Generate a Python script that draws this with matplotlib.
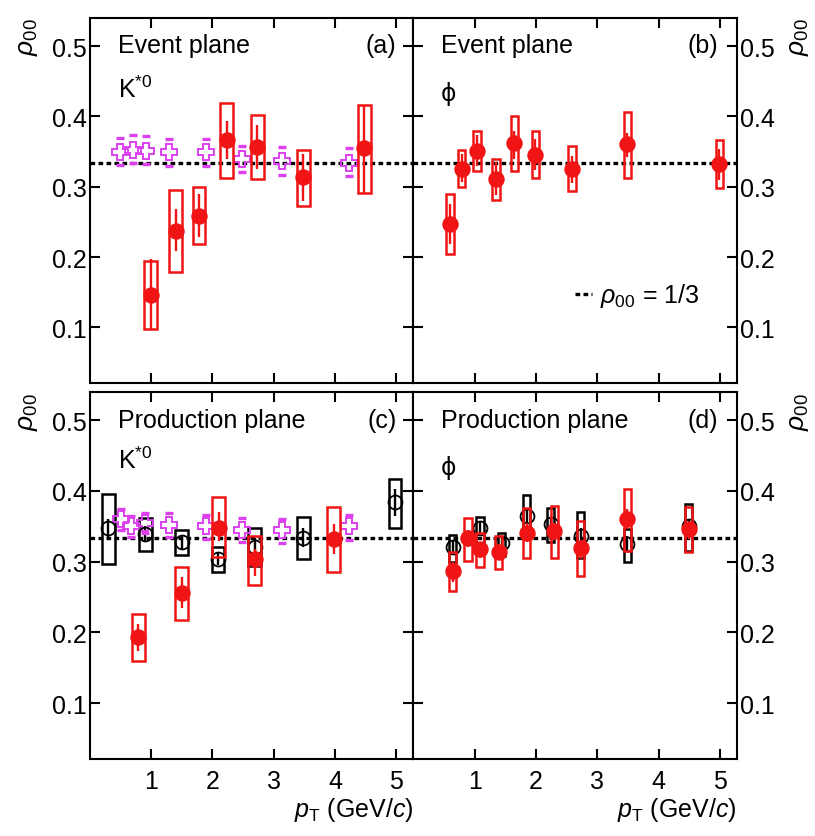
import numpy as np
import matplotlib
matplotlib.use("Agg")
import matplotlib.pyplot as plt

plt.rcParams['font.family'] = ['Liberation Sans', 'DejaVu Sans']
plt.rcParams['mathtext.fontset'] = 'custom'
plt.rcParams['mathtext.rm'] = 'Liberation Sans'
plt.rcParams['mathtext.it'] = 'Liberation Sans:italic'
plt.rcParams['mathtext.bf'] = 'Liberation Sans:bold'

RED = '#f01414'
MAG = '#dd40ee'

# (a) event plane, K*0 -- red: this analysis
a_pt = [0.99, 1.40, 1.78, 2.23, 2.73, 3.48, 4.48]
a_rho = [0.146, 0.237, 0.258, 0.366, 0.356, 0.314, 0.355]
a_stat_lo = [0.098, 0.208, 0.228, 0.340, 0.325, 0.280, 0.291]
a_stat_hi = [0.197, 0.268, 0.290, 0.394, 0.388, 0.347, 0.417]
a_sys_lo = [0.098, 0.179, 0.218, 0.313, 0.311, 0.273, 0.291]
a_sys_hi = [0.195, 0.296, 0.299, 0.419, 0.402, 0.353, 0.417]
# magenta crosses
a_m_pt = [0.49, 0.70, 0.91, 1.29, 1.89, 2.48, 3.14, 4.23]
a_m_rho = [0.350, 0.353, 0.351, 0.350, 0.350, 0.339, 0.336, 0.334]
a_m_lo = [0.331, 0.334, 0.332, 0.330, 0.330, 0.321, 0.317, 0.315]
a_m_hi = [0.369, 0.374, 0.372, 0.368, 0.368, 0.358, 0.357, 0.355]

# (b) event plane, phi
b_pt = [0.60, 0.79, 1.04, 1.35, 1.65, 1.99, 2.59, 3.49, 4.99]
b_rho = [0.247, 0.326, 0.351, 0.311, 0.362, 0.345, 0.326, 0.361, 0.332]
b_stat_lo = [0.219, 0.307, 0.329, 0.288, 0.340, 0.324, 0.306, 0.342, 0.309]
b_stat_hi = [0.276, 0.347, 0.373, 0.335, 0.380, 0.368, 0.344, 0.377, 0.354]
b_sys_lo = [0.205, 0.300, 0.322, 0.281, 0.322, 0.312, 0.294, 0.313, 0.298]
b_sys_hi = [0.290, 0.352, 0.379, 0.340, 0.401, 0.379, 0.358, 0.407, 0.366]

# (c) production plane, K*0
c_pt = [0.79, 1.50, 2.10, 2.69, 3.98]
c_rho = [0.193, 0.256, 0.348, 0.303, 0.332]
c_stat_lo = [0.174, 0.235, 0.329, 0.280, 0.311]
c_stat_hi = [0.212, 0.278, 0.370, 0.318, 0.353]
c_sys_lo = [0.160, 0.218, 0.306, 0.267, 0.285]
c_sys_hi = [0.226, 0.293, 0.391, 0.336, 0.377]
c_k_pt = [0.30, 0.90, 1.50, 2.09, 2.69, 3.48, 4.98]
c_k_rho = [0.347, 0.339, 0.328, 0.304, 0.320, 0.333, 0.384]
c_k_stat_lo = [0.335, 0.328, 0.318, 0.295, 0.308, 0.320, 0.365]
c_k_stat_hi = [0.360, 0.350, 0.338, 0.313, 0.333, 0.347, 0.402]
c_k_sys_lo = [0.297, 0.315, 0.309, 0.285, 0.294, 0.303, 0.348]
c_k_sys_hi = [0.395, 0.362, 0.344, 0.321, 0.348, 0.363, 0.417]
c_m_pt = [0.51, 0.67, 0.90, 1.29, 1.89, 2.48, 3.13, 4.23]
c_m_rho = [0.360, 0.350, 0.355, 0.351, 0.350, 0.345, 0.344, 0.350]
c_m_lo = [0.344, 0.334, 0.341, 0.334, 0.332, 0.327, 0.326, 0.331]
c_m_hi = [0.374, 0.365, 0.369, 0.368, 0.366, 0.361, 0.360, 0.366]

# (d) production plane, phi
d_pt = [0.64, 0.89, 1.09, 1.39, 1.85, 2.30, 2.73, 3.49, 4.49]
d_rho = [0.286, 0.333, 0.318, 0.313, 0.341, 0.343, 0.319, 0.360, 0.346]
d_stat_lo = [0.271, 0.320, 0.305, 0.306, 0.328, 0.330, 0.304, 0.346, 0.332]
d_stat_hi = [0.299, 0.345, 0.328, 0.325, 0.354, 0.355, 0.331, 0.374, 0.354]
d_sys_lo = [0.259, 0.301, 0.292, 0.289, 0.305, 0.305, 0.279, 0.315, 0.314]
d_sys_hi = [0.313, 0.362, 0.341, 0.336, 0.375, 0.379, 0.357, 0.402, 0.377]
d_k_pt = [0.64, 1.09, 1.44, 1.85, 2.24, 2.73, 3.49, 4.49]
d_k_rho = [0.321, 0.348, 0.326, 0.365, 0.353, 0.336, 0.325, 0.350]
d_k_stat_lo = [0.312, 0.340, 0.318, 0.355, 0.344, 0.325, 0.314, 0.341]
d_k_stat_hi = [0.330, 0.356, 0.334, 0.375, 0.362, 0.347, 0.336, 0.359]
d_k_sys_lo = [0.299, 0.315, 0.308, 0.336, 0.327, 0.305, 0.299, 0.315]
d_k_sys_hi = [0.337, 0.363, 0.341, 0.394, 0.375, 0.370, 0.346, 0.381]


def draw_set(ax, pt, rho, slo, shi, ylo, yhi, color, filled, box_w, z):
    pt = np.array(pt)
    rho = np.array(rho)
    ax.bar(pt, np.array(yhi) - np.array(ylo), bottom=ylo, width=box_w,
           fill=False, edgecolor=color, linewidth=1.8, zorder=z)
    yerr = [rho - np.array(slo), np.array(shi) - rho]
    ax.errorbar(pt, rho, yerr=yerr, fmt='o', color=color,
                mfc=color if filled else 'none', mec=color,
                ms=10.5 if filled else 10, mew=1.3, elinewidth=1.7,
                capsize=0, zorder=z + 1)


def draw_cross(ax, pt, rho, lo, hi):
    ax.plot(pt, rho, 'P', ms=12, mfc='none', mec=MAG, mew=1.4,
            ls='none', zorder=4)
    ax.plot(pt, lo, '_', ms=6, mew=2.4, color=MAG, ls='none', zorder=4)
    ax.plot(pt, hi, '_', ms=6, mew=2.4, color=MAG, ls='none', zorder=4)


fig = plt.figure(figsize=(8.15, 8.37), dpi=100)
W, H = 815.0, 837.0
ax_a = fig.add_axes([90 / W, 1 - 384 / H, 323.3 / W, 365 / H])
ax_b = fig.add_axes([413.3 / W, 1 - 384 / H, 323.7 / W, 365 / H])
ax_c = fig.add_axes([90 / W, 1 - 760 / H, 323.3 / W, 367.3 / H])
ax_d = fig.add_axes([413.3 / W, 1 - 760 / H, 323.7 / W, 367.3 / H])

for ax in (ax_a, ax_b, ax_c, ax_d):
    ax.set_xlim(0, 5.28)
    ax.set_ylim(0.021, 0.54)
    ax.set_xticks([1, 2, 3, 4, 5])
    ax.set_yticks([0.1, 0.2, 0.3, 0.4, 0.5])
    ax.tick_params(direction='in', length=7, width=1.5, top=True, right=True,
                   labelsize=18, pad=2)
    ax.tick_params(axis='x', pad=7)
    for s in ax.spines.values():
        s.set_linewidth(1.5)
    ax.axhline(1 / 3, color='black', lw=2.4, dashes=(1.4, 1.0), zorder=2,
               label=r'$\rho_{00}$ = 1/3')

for ax in (ax_a, ax_b):
    ax.set_xticklabels([])
for ax in (ax_b, ax_d):
    ax.yaxis.tick_right()
    ax.yaxis.set_ticks_position('both')
    ax.tick_params(labelleft=False, labelright=True)

# panel (a)
draw_cross(ax_a, a_m_pt, a_m_rho, a_m_lo, a_m_hi)
draw_set(ax_a, a_pt, a_rho, a_stat_lo, a_stat_hi, a_sys_lo, a_sys_hi,
         RED, True, 0.21, 5)
# panel (b)
draw_set(ax_b, b_pt, b_rho, b_stat_lo, b_stat_hi, b_sys_lo, b_sys_hi,
         RED, True, 0.12, 5)
# panel (c)
draw_set(ax_c, c_k_pt, c_k_rho, c_k_stat_lo, c_k_stat_hi, c_k_sys_lo,
         c_k_sys_hi, 'black', False, 0.21, 3)
draw_cross(ax_c, c_m_pt, c_m_rho, c_m_lo, c_m_hi)
draw_set(ax_c, c_pt, c_rho, c_stat_lo, c_stat_hi, c_sys_lo, c_sys_hi,
         RED, True, 0.21, 5)
# panel (d)
draw_set(ax_d, d_k_pt, d_k_rho, d_k_stat_lo, d_k_stat_hi, d_k_sys_lo,
         d_k_sys_hi, 'black', False, 0.12, 3)
draw_set(ax_d, d_pt, d_rho, d_stat_lo, d_stat_hi, d_sys_lo, d_sys_hi,
         RED, True, 0.12, 5)

# panel texts
fs = 18
phi_font = ['DejaVu Sans']
ax_a.text(0.087, 0.925, 'Event plane', transform=ax_a.transAxes, fontsize=fs, va='center')
ax_a.text(0.948, 0.925, '(a)', transform=ax_a.transAxes, fontsize=fs, va='center', ha='right')
ax_a.text(0.087, 0.805, r'K$^{*0}$', transform=ax_a.transAxes, fontsize=fs, va='center')
ax_b.text(0.086, 0.925, 'Event plane', transform=ax_b.transAxes, fontsize=fs, va='center')
ax_b.text(0.942, 0.925, '(b)', transform=ax_b.transAxes, fontsize=fs, va='center', ha='right')
ax_b.text(0.086, 0.795, 'ϕ', transform=ax_b.transAxes, fontsize=fs - 1, va='center',
          family=phi_font)
ax_c.text(0.087, 0.923, 'Production plane', transform=ax_c.transAxes, fontsize=fs, va='center')
ax_c.text(0.948, 0.923, '(c)', transform=ax_c.transAxes, fontsize=fs, va='center', ha='right')
ax_c.text(0.087, 0.815, r'K$^{*0}$', transform=ax_c.transAxes, fontsize=fs, va='center')
ax_d.text(0.086, 0.923, 'Production plane', transform=ax_d.transAxes, fontsize=fs, va='center')
ax_d.text(0.942, 0.923, '(d)', transform=ax_d.transAxes, fontsize=fs, va='center', ha='right')
ax_d.text(0.086, 0.795, 'ϕ', transform=ax_d.transAxes, fontsize=fs - 1, va='center',
          family=phi_font)

ax_b.legend(loc='center left', bbox_to_anchor=(0.43, 0.24), frameon=False,
            fontsize=fs, handlelength=0.7, handletextpad=0.3)

for ax in (ax_c, ax_d):
    ax.set_xlabel(r'$p_{\mathrm{T}}$ (GeV/$c$)', fontsize=fs, loc='right', labelpad=2)

# rho_00 axis titles
for yc in (0.955, 0.508):
    fig.text(0.034, yc, r'$\rho_{00}$', rotation=90, fontsize=fs + 1, ha='center', va='center')
    fig.text(0.980, yc, r'$\rho_{00}$', rotation=90, fontsize=fs + 1, ha='center', va='center')

fig.savefig('out.png', dpi=100)
